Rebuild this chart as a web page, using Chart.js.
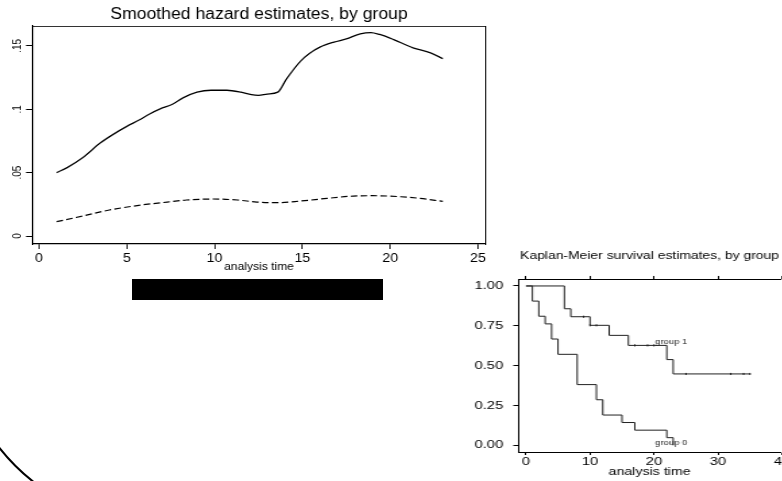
<!DOCTYPE html>
<html>
<head>
<meta charset="utf-8">
<script src="https://cdn.jsdelivr.net/npm/chart.js@4.4.1/dist/chart.umd.min.js"></script>
<style>
  html, body { margin: 0; padding: 0; background: #fff; }
  body { width: 782px; height: 481px; overflow: hidden; position: relative; }
  .panel { position: absolute; transform-origin: 0 0; }
  #hazWrap { left: 0; top: 0; transform: scaleX(1.1); }
  #kmWrap { left: 460px; top: 240px; transform: scaleX(1.35); }
  #bar { position: absolute; left: 132px; top: 279px; width: 251px; height: 21px; background: #000; }
  #arcClip { position: absolute; left: 0; top: 440px; width: 45px; height: 41px; overflow: hidden; }
  #arc { position: absolute; left: -44px; top: -315px; width: 400px; height: 400px; box-sizing: border-box;
         border: 2px solid #000; border-radius: 50%; }
</style>
</head>
<body>
<div class="panel" id="hazWrap"><canvas id="hazard" width="460" height="280"></canvas></div>
<div id="bar"></div>
<div class="panel" id="kmWrap"><canvas id="km" width="250" height="241"></canvas></div>
<div id="arcClip"><div id="arc"></div></div>

<script>
// smoothed hazard, group 0 (solid) and group 1 (dashed)
const hazTime0 = [1.0, 1.6, 2.5, 3.5, 4.2, 5.0, 5.7, 6.3, 6.9, 7.6, 8.2, 9.0, 9.8, 10.7, 11.5, 12.1,
                  12.5, 13.0, 13.6, 14.1, 14.9, 15.4, 16.0, 16.8, 17.5, 18.3, 18.9, 19.4, 20.2, 21.3, 22.3, 23.0];
const hazGroup0 = [.050, .054, .062, .0735, .080, .0865, .0915, .0963, .1003, .104, .109, .1135, .115, .115, .1135, .1115,
                   .111, .112, .1135, .124, .138, .144, .149, .153, .1555, .1595, .1605, .159, .155, .1485, .1445, .140];
const hazTime1 = [1.0, 2.5, 4.0, 5.8, 7.3, 8.4, 9.9, 11.3, 12.4, 13.6, 14.9, 16.4, 17.9, 19.0, 20.6, 21.7, 23.0];
const hazGroup1 = [.0113, .0158, .0205, .0244, .0268, .0284, .0292, .0284, .0268, .0263, .0276, .0297, .0315, .0318, .031, .0297, .0273];
const hazXTicks = [0, 5, 10, 15, 20, 25];
const hazYTicks = [0, 0.05, 0.1, 0.15];
const hazYLabels = ['0', '.05', '.1', '.15'];

// Kaplan-Meier estimates
const kmTime0 = [0, 1, 2, 3, 4, 5, 8, 11, 12, 15, 17, 22, 23];
const kmSurv0 = [1, 0.905, 0.810, 0.762, 0.667, 0.571, 0.381, 0.286, 0.190, 0.143, 0.095, 0.048, 0];
const kmTime1 = [0, 6, 7, 10, 13, 16, 22, 23, 35];
const kmSurv1 = [1, 0.857, 0.807, 0.753, 0.690, 0.627, 0.538, 0.448, 0.448];
const censorTime1 = [9, 10, 11, 17, 19, 20, 25, 32, 34, 35];
const censorSurv1 = [0.807, 0.753, 0.753, 0.627, 0.627, 0.627, 0.448, 0.448, 0.448, 0.448];
const kmXTicks = [0, 10, 20, 30, 40];
const kmYTicks = [0, 0.25, 0.5, 0.75, 1];
const kmYLabels = ['0.00', '0.25', '0.50', '0.75', '1.00'];
const groupNames = ['group 1', 'group 0'];
const groupNameTime = [22.7, 22.7];
const groupNameSurv = [0.648, 0.011];

Chart.defaults.font.family = '"Liberation Sans", Arial, sans-serif';
Chart.defaults.color = '#000';

const toPoints = (xs, ys) => xs.map((x, i) => ({ x: x, y: ys[i] }));
const setTicks = list => scale => { scale.ticks = list.map(v => ({ value: v })); };

new Chart(document.getElementById('hazard'), {
    type: 'line',
    data: {
        datasets: [
            {
                data: toPoints(hazTime0, hazGroup0),
                borderColor: '#000',
                borderWidth: 1.3,
                pointRadius: 0,
                cubicInterpolationMode: 'monotone',
                fill: false
            },
            {
                data: toPoints(hazTime1, hazGroup1),
                borderColor: '#000',
                borderWidth: 1.2,
                borderDash: [6, 3],
                pointRadius: 0,
                cubicInterpolationMode: 'monotone',
                fill: false
            }
        ]
    },
    options: {
        responsive: false,
        animation: false,
        events: [],
        layout: { padding: { left: 0, right: 18.2, top: 0, bottom: 6.8 } },
        plugins: {
            legend: { display: false },
            tooltip: { enabled: false },
            title: {
                display: true,
                text: 'Smoothed hazard estimates, by group',
                fullSize: false,
                color: '#000',
                font: { size: 16, weight: 'normal' },
                padding: { top: 5.4, bottom: 1.4 }
            }
        },
        scales: {
            x: {
                type: 'linear',
                position: 'bottom',
                min: -0.4,
                max: 25.46,
                afterBuildTicks: setTicks(hazXTicks),
                afterFit: s => { s.height = 29.2; },
                grid: { drawOnChartArea: false, drawTicks: true, tickLength: 5, color: '#000' },
                border: { display: true, color: '#000', width: 1.2 },
                ticks: { color: '#000', font: { size: 13 }, padding: 2, maxRotation: 0, autoSkip: false },
                title: { display: true, text: 'analysis time', color: '#000', font: { size: 11 }, padding: 0 }
            },
            xTop: {
                type: 'linear',
                position: 'top',
                min: -0.4,
                max: 25.46,
                ticks: { display: false },
                grid: { display: false, drawTicks: false },
                border: { display: true, color: '#333', width: 1 },
                afterFit: s => { s.height = 0; }
            },
            y: {
                position: 'left',
                min: -0.0063,
                max: 0.1657,
                afterBuildTicks: setTicks(hazYTicks),
                afterFit: s => { s.width = 29.1; },
                grid: { drawOnChartArea: false, drawTicks: true, tickLength: 5.5, color: '#000' },
                border: { display: true, color: '#000', width: 1.2 },
                ticks: {
                    color: '#000',
                    font: { size: 10 },
                    minRotation: 90,
                    maxRotation: 90,
                    crossAlign: 'center',
                    padding: 0,
                    autoSkip: false,
                    callback: (v, i) => hazYLabels[i]
                }
            },
            yRight: {
                position: 'right',
                min: -0.0063,
                max: 0.1657,
                ticks: { display: false },
                grid: { display: false, drawTicks: false },
                border: { display: true, color: '#000', width: 1 },
                afterFit: s => { s.width = 0; }
            }
        }
    }
});

const groupLabelPlugin = {
    id: 'groupLabels',
    afterDatasetsDraw(chart) {
        const { ctx, scales } = chart;
        ctx.save();
        ctx.font = '7px "Liberation Sans", Arial, sans-serif';
        ctx.fillStyle = '#222';
        ctx.textAlign = 'center';
        ctx.textBaseline = 'middle';
        groupNames.forEach((name, i) => {
            ctx.fillText(name, scales.x.getPixelForValue(groupNameTime[i]), scales.y.getPixelForValue(groupNameSurv[i]));
        });
        ctx.restore();
    }
};

new Chart(document.getElementById('km'), {
    type: 'line',
    data: {
        datasets: [
            {
                data: toPoints(kmTime0, kmSurv0),
                stepped: 'before',
                borderColor: '#222',
                borderWidth: 1,
                pointRadius: 0,
                fill: false
            },
            {
                data: toPoints(kmTime1, kmSurv1),
                stepped: 'before',
                borderColor: '#222',
                borderWidth: 1,
                pointRadius: 0,
                fill: false
            },
            {
                data: toPoints(censorTime1, censorSurv1),
                showLine: false,
                pointStyle: 'line',
                rotation: 90,
                pointRadius: 1,
                borderColor: '#111',
                borderWidth: 1
            }
        ]
    },
    options: {
        responsive: false,
        animation: false,
        events: [],
        layout: { padding: { left: 0, right: 12.4, top: 0, bottom: 2.5 } },
        plugins: {
            legend: { display: false },
            tooltip: { enabled: false },
            title: {
                display: true,
                text: 'Kaplan-Meier survival estimates, by group',
                fullSize: false,
                color: '#000',
                font: { size: 10.3, weight: 'normal' },
                padding: { top: 10.1, bottom: 13.5 }
            }
        },
        scales: {
            x: {
                type: 'linear',
                position: 'bottom',
                min: -1.2,
                max: 39.81,
                afterBuildTicks: setTicks(kmXTicks),
                afterFit: s => { s.height = 26.5; },
                grid: { drawOnChartArea: false, drawTicks: true, tickLength: 3, color: '#000' },
                border: { display: true, color: '#000', width: 1 },
                ticks: { color: '#000', font: { size: 11 }, padding: 0, maxRotation: 0, autoSkip: false },
                title: { display: true, text: 'analysis time', color: '#000', font: { size: 10.5 }, padding: 0 }
            },
            xTop: {
                type: 'linear',
                position: 'top',
                min: -1.2,
                max: 39.81,
                afterBuildTicks: setTicks(kmXTicks),
                afterFit: s => { s.height = 4; },
                ticks: { display: false },
                grid: { display: true, drawOnChartArea: false, drawTicks: true, tickLength: 4, color: '#000' },
                border: { display: true, color: '#000', width: 1 }
            },
            y: {
                position: 'left',
                min: -0.042,
                max: 1.0377,
                afterBuildTicks: setTicks(kmYTicks),
                afterFit: s => { s.width = 43.2; },
                grid: { drawOnChartArea: false, drawTicks: true, tickLength: 3.7, color: '#000' },
                border: { display: true, color: '#000', width: 1 },
                ticks: {
                    color: '#000',
                    font: { size: 11 },
                    padding: 7.4,
                    autoSkip: false,
                    callback: (v, i) => kmYLabels[i]
                }
            }
        }
    },
    plugins: [groupLabelPlugin]
});
</script>
</body>
</html>
